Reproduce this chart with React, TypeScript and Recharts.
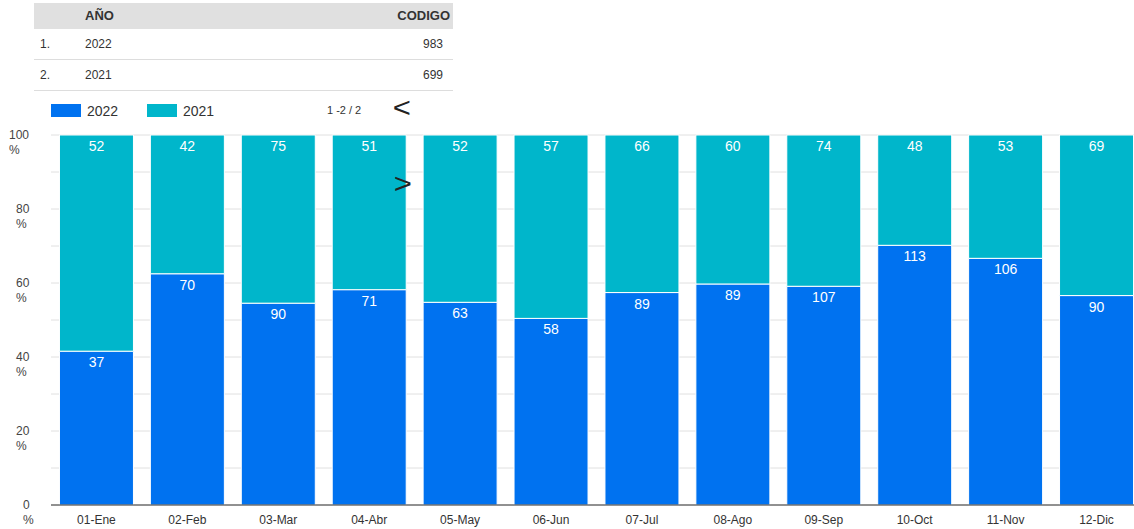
import { BarChart, Bar, XAxis, YAxis, CartesianGrid, LabelList } from 'recharts';

const months = ['01-Ene', '02-Feb', '03-Mar', '04-Abr', '05-May', '06-Jun', '07-Jul', '08-Ago', '09-Sep', '10-Oct', '11-Nov', '12-Dic'];
const values2022 = [37, 70, 90, 71, 63, 58, 89, 89, 107, 113, 106, 90];
const values2021 = [52, 42, 75, 51, 52, 57, 66, 60, 74, 48, 53, 69];
const yTicks = [0, 0.1, 0.2, 0.3, 0.4, 0.5, 0.6, 0.7, 0.8, 0.9, 1];

const tableRows = [
  { rank: '1.', year: '2022', total: 983 },
  { rank: '2.', year: '2021', total: 699 },
];

const BLUE = '#0072f0';
const TEAL = '#00b6cb';
const FONT = '"Liberation Sans", Arial, sans-serif';

const data = months.map((m, i) => ({ month: m, y2022: values2022[i], y2021: values2021[i] }));

function YTick(props: any) {
  const { y, payload } = props;
  const pct = Math.round(payload.value * 100);
  if (pct % 20 !== 0) return null;
  const txt = String(pct);
  const x0 = 30 - 7 * txt.length;
  return (
    <text x={x0} y={y} fontSize={12} fill="#444" fontFamily={FONT}>
      <tspan x={x0} dy={4}>{txt}</tspan>
      <tspan x={x0} dy={15}>%</tspan>
    </text>
  );
}

function XTick(props: any) {
  const { x, y, payload } = props;
  return (
    <text x={x} y={y + 11} textAnchor="middle" fontSize={12} fill="#333" fontFamily={FONT}>
      {payload.value}
    </text>
  );
}

const segLabel = (vals: number[]) => (props: any) => {
  const { x, y, width, index } = props;
  return (
    <text x={x + width / 2} y={y + 16} textAnchor="middle" fontSize={14} fill="#fff" fontFamily={FONT}>
      {vals[index]}
    </text>
  );
};

export default function App() {
  return (
    <div style={{ position: 'absolute', left: 0, top: 0, width: 1134, height: 529, overflow: 'hidden', background: '#fff', fontFamily: FONT }}>
      {/* summary table */}
      <div style={{ position: 'absolute', left: 34, top: 3, width: 419, fontSize: 12, color: '#333' }}>
        <div style={{ height: 26, background: '#e0e0e0', position: 'relative', fontWeight: 'bold', fontSize: 13 }}>
          <span style={{ position: 'absolute', left: 51, top: 5 }}>AÑO</span>
          <span style={{ position: 'absolute', right: 3, top: 5 }}>CODIGO</span>
        </div>
        {tableRows.map((r) => (
          <div key={r.year} style={{ height: 30, borderBottom: '1px solid #ddd', position: 'relative' }}>
            <span style={{ position: 'absolute', left: 6, top: 8 }}>{r.rank}</span>
            <span style={{ position: 'absolute', left: 51, top: 8 }}>{r.year}</span>
            <span style={{ position: 'absolute', right: 10, top: 8 }}>{r.total}</span>
          </div>
        ))}
      </div>

      {/* legend */}
      <div style={{ position: 'absolute', left: 51, top: 104, width: 30, height: 13, background: BLUE }} />
      <span style={{ position: 'absolute', left: 87, top: 103, fontSize: 14, color: '#333' }}>2022</span>
      <div style={{ position: 'absolute', left: 147, top: 104, width: 30, height: 13, background: TEAL }} />
      <span style={{ position: 'absolute', left: 183, top: 103, fontSize: 14, color: '#333' }}>2021</span>
      <span style={{ position: 'absolute', left: 327, top: 104, fontSize: 11, color: '#333' }}>1 -2 / 2</span>
      <span style={{ position: 'absolute', left: 394, top: 93, fontSize: 27, color: '#222', transform: 'scaleX(1.15)' }}>&lt;</span>

      <div style={{ position: 'absolute', left: 0, top: 0 }}>
        <BarChart
          width={1143}
          height={529}
          data={data}
          stackOffset="expand"
          margin={{ top: 135, right: 1, left: 0, bottom: 0 }}
          barCategoryGap="9.3%"
        >
          <CartesianGrid vertical={false} stroke="#e0e0e0" />
          <XAxis dataKey="month" height={24} tickLine={false} axisLine={{ stroke: '#333' }} tick={<XTick />} interval={0} />
          <YAxis width={51} domain={[0, 1]} ticks={yTicks} axisLine={false} tickLine={false} tick={<YTick />} />
          <Bar dataKey="y2022" stackId="a" fill={BLUE} stroke="#fff" strokeWidth={1} isAnimationActive={false}>
            <LabelList content={segLabel(values2022)} />
          </Bar>
          <Bar dataKey="y2021" stackId="a" fill={TEAL} stroke="#fff" strokeWidth={1} isAnimationActive={false}>
            <LabelList content={segLabel(values2021)} />
          </Bar>
        </BarChart>
      </div>

      <span style={{ position: 'absolute', left: 395, top: 169, fontSize: 27, color: '#222', transform: 'scaleX(1.15)' }}>&gt;</span>
    </div>
  );
}
